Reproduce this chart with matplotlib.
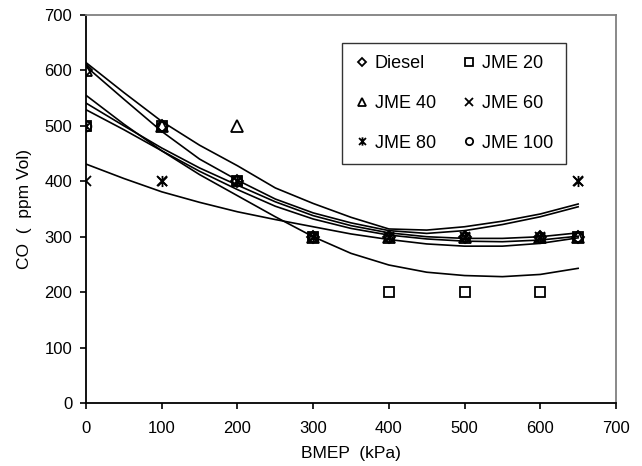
import numpy as np
import matplotlib
matplotlib.use("Agg")
import matplotlib.pyplot as plt
from matplotlib.path import Path

plt.rcParams["font.family"] = ["Liberation Sans", "DejaVu Sans"]

# measured points
bmep = [0, 100, 200, 300, 400, 500, 600, 650]
co_diesel = [600, 500, 400, 300, 300, 300, 300, 300]
co_jme20 = [500, 500, 400, 300, 200, 200, 200, 300]
co_jme40 = [600, 500, 500, 300, 300, 300, 300, 300]
co_jme60 = [400, 400, 400, 300, 300, 300, 300, 400]
co_jme80 = [500, 400, 400, 300, 300, 300, 300, 400]
co_jme100 = [500, 500, 400, 300, 300, 300, 300, 300]

# trend curves
trend_x = [0, 50, 100, 150, 200, 250, 300, 350, 400, 450, 500, 550, 600, 650]
trend_a = [614, 560, 508, 465, 428, 388, 360, 335, 314, 312, 318, 328, 341, 359]
trend_b = [607, 548, 490, 440, 402, 368, 343, 325, 311, 306, 311, 322, 336, 354]
trend_m1 = [541, 500, 460, 424, 393, 363, 338, 320, 307, 300, 297, 297, 300, 307]
trend_m2 = [529, 493, 455, 418, 385, 355, 332, 315, 303, 296, 292, 291, 294, 301]
trend_s = [555, 503, 455, 412, 374, 336, 300, 270, 249, 236, 230, 228, 232, 243]
trend_l = [431, 405, 381, 362, 345, 331, 318, 305, 295, 287, 283, 283, 288, 298]

star = Path([(-1, -1), (1, 1), (-1, 1), (1, -1), (0, -1.2), (0, 1.2)],
            [Path.MOVETO, Path.LINETO, Path.MOVETO, Path.LINETO, Path.MOVETO, Path.LINETO])

fig = plt.figure(figsize=(6.42, 4.66), dpi=100)
ax = fig.add_axes([0.134, 0.135, 0.8255, 0.833])

for ys in [trend_a, trend_b, trend_m1, trend_m2, trend_s, trend_l]:
    ax.plot(trend_x, ys, color="black", lw=1.2, zorder=2)

series = [
    ("Diesel", co_diesel, "D", 6),
    ("JME 20", co_jme20, "s", 7),
    ("JME 40", co_jme40, "^", 8),
    ("JME 60", co_jme60, "x", 7),
    ("JME 80", co_jme80, star, 8),
    ("JME 100", co_jme100, "o", 7),
]
handles = {}
for name, ys, mk, ms in series:
    h, = ax.plot(bmep, ys, linestyle="none", marker=mk, markersize=ms,
                 markerfacecolor="none", markeredgecolor="black",
                 markeredgewidth=1.3, color="black", label=name, zorder=3)
    handles[name] = h

ax.set_xlim(0, 700)
ax.set_ylim(0, 700)
ax.set_xticks(range(0, 701, 100))
ax.set_yticks(range(0, 701, 100))
ax.tick_params(direction="out", length=4, width=1.2, labelsize=12, colors="black")
ax.tick_params(axis="x", pad=9)
ax.tick_params(axis="y", pad=6)
for s in ["top", "right"]:
    ax.spines[s].set_color("#808080")
for s in ["left", "bottom"]:
    ax.spines[s].set_color("black")
for s in ax.spines.values():
    s.set_linewidth(1.3)

ax.set_xlabel("BMEP  (kPa)", fontsize=12.5, labelpad=7)
ax.set_ylabel("CO  (  ppm Vol)", fontsize=12.5, labelpad=9)

order = ["Diesel", "JME 40", "JME 80", "JME 20", "JME 60", "JME 100"]
leg = ax.legend([handles[n] for n in order], order, ncol=2, loc="upper left",
                bbox_to_anchor=(0.483, 0.928), fontsize=13, frameon=True,
                fancybox=False, edgecolor="black", handlelength=0.8,
                handletextpad=0.3, columnspacing=1.45, labelspacing=1.25,
                borderpad=0.7, markerscale=0.75, borderaxespad=0)
leg.get_frame().set_linewidth(1.0)

fig.savefig("out.png", dpi=100)
